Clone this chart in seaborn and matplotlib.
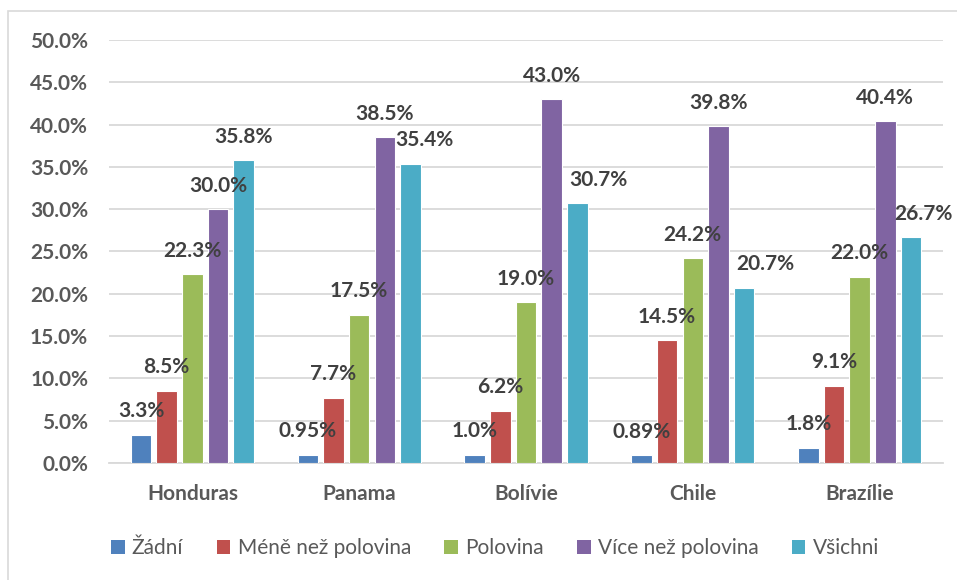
import matplotlib
matplotlib.use("Agg")
import matplotlib.pyplot as plt
import seaborn as sns
import pandas as pd
from matplotlib.patches import Rectangle
from matplotlib.ticker import FuncFormatter

categories = ["Honduras", "Panama", "Bolívie", "Chile", "Brazílie"]
series = ["Žádní", "Méně než polovina", "Polovina", "Více než polovina", "Všichni"]
zadni = [3.3, 0.95, 1.0, 0.89, 1.8]
mene = [8.5, 7.7, 6.2, 14.5, 9.1]
polovina = [22.3, 17.5, 19.0, 24.2, 22.0]
vice = [30.0, 38.5, 43.0, 39.8, 40.4]
vsichni = [35.8, 35.4, 30.7, 20.7, 26.7]
colors = ["#4F81BD", "#C0504D", "#9BBB59", "#8064A2", "#4BACC6"]

values = [zadni, mene, polovina, vice, vsichni]
rows = []
for s, vals in zip(series, values):
    for c, v in zip(categories, vals):
        rows.append({"země": c, "skupina": s, "podíl": v})
df = pd.DataFrame(rows)

sns.set_theme(style="white")
plt.rcParams["font.family"] = ["Lato", "DejaVu Sans"]

W, H = 957, 580
fig = plt.figure(figsize=(W / 100, H / 100), dpi=100)
fig.patch.set_facecolor("white")
ax = fig.add_axes([109 / W, 1 - 463 / H, (943 - 109) / W, (463 - 40) / H])

# chart frame
fig.patches.append(Rectangle((8 / W, -0.05), 1.2, 1 - 11 / H + 0.05, transform=fig.transFigure,
                             fill=False, edgecolor="#D9D9D9", linewidth=1.2, zorder=0))

sns.barplot(data=df, x="země", y="podíl", hue="skupina", order=categories, hue_order=series,
            palette=colors, width=0.77, gap=0.2, edgecolor="white", linewidth=0.8,
            saturation=1, legend=True, ax=ax, zorder=3)

ax.set_ylim(0, 50)
ax.set_xlim(-0.5, len(categories) - 0.5)
ax.set_yticks(range(0, 51, 5))
ax.yaxis.set_major_formatter(FuncFormatter(lambda v, p: f"{v:.1f}%"))
ax.grid(axis="y", color="#D9D9D9", linewidth=1.3, zorder=0)
ax.set_axisbelow(True)
for s in ["top", "right", "left"]:
    ax.spines[s].set_visible(False)
ax.spines["bottom"].set_color("#D9D9D9")
ax.spines["bottom"].set_linewidth(1.3)
ax.tick_params(axis="both", length=0, labelsize=15, colors="#595959")
ax.tick_params(axis="y", pad=15)
ax.tick_params(axis="x", pad=15)
for t in ax.get_xticklabels() + ax.get_yticklabels():
    t.set_fontweight("bold")
ax.set_xlabel("")
ax.set_ylabel("")

def fmt(v):
    return f"{v:.2f}%" if v < 1 else f"{v:.1f}%"

# horizontal nudges (px) for Všichni labels as in reference
x_nudge = {4: [0, 14, 21, 21, 12]}
for si, cont in enumerate(ax.containers):
    for ci, bar in enumerate(cont):
        v = values[si][ci]
        dx = x_nudge.get(si, [0] * 5)[ci] * 0.72
        ax.annotate(fmt(v), (bar.get_x() + bar.get_width() / 2, bar.get_height()),
                    xytext=(dx, 17), textcoords="offset points", ha="center", va="center",
                    fontsize=15, fontweight="bold", color="#404040", zorder=5,
                    annotation_clip=False)

ax.get_legend().remove()
handles = [Rectangle((0, 0), 1, 1, facecolor=c, edgecolor="none") for c in colors]
fig.legend(handles, series, loc="center", bbox_to_anchor=(495 / W, 1 - 548 / H), ncol=5,
           frameon=False, fontsize=15, labelcolor="#595959", handlelength=0.65,
           handleheight=0.65, handletextpad=0.35, columnspacing=1.6)

fig.savefig("out.png", dpi=100)
